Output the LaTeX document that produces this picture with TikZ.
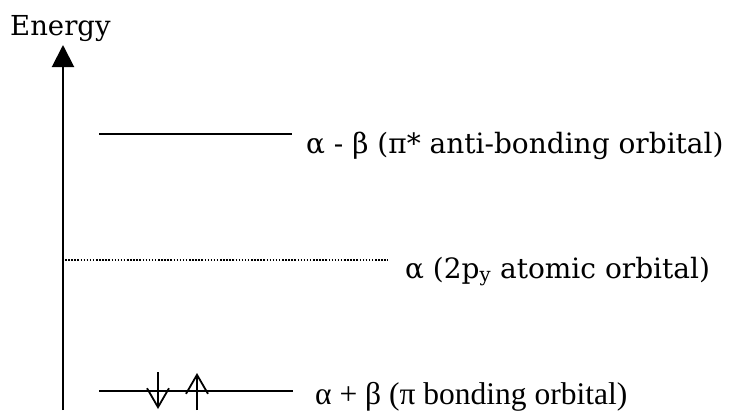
\documentclass[tikz,border=0pt]{standalone}
\usepackage{fontspec}
\setmainfont{DejaVu Serif}
\newfontfamily\timesfont{Liberation Serif}
\usetikzlibrary{arrows.meta}
\begin{document}
\begin{tikzpicture}[x=1pt, y=-1pt,
    orbitalLine/.style={line width=2pt},
    orbitalText/.style={anchor=base west, inner sep=0pt, font=\fontsize{28}{32}\selectfont},
    electron/.style={line width=1.8pt, -{Straight Barb[length=19pt,width=22pt]}}]
    \definecolor{lineColour}{HTML}{000000}

    \useasboundingbox (0,0) rectangle (730,410);

    % Energy axis
    \coordinate (axisBottom) at (63,410);
    \coordinate (axisTop) at (63,45);
    \draw[line width=2pt, -{Triangle[width=22pt,length=22pt]}] (axisBottom) -- (axisTop);
    \node[anchor=base west, inner sep=0pt, font=\fontsize{27.5}{30}\selectfont] (energy) at (10,35) {Energy};

    % Anti-bonding level
    \coordinate (antiL) at (99,134);
    \coordinate (antiR) at (292,134);
    \draw[orbitalLine] (antiL) -- (antiR);
    \node[orbitalText] (antiText) at (306,153) {α - β (π* anti-bonding orbital)};

    % Atomic level
    \coordinate (atomL) at (65,260);
    \coordinate (atomR) at (388,260);
    \draw[line width=1.4pt, dash pattern=on 1.5pt off 1.6pt] (atomL) -- (atomR);
    \node[orbitalText] (atomText) at (405,278) {α (2p\textsubscript{y} atomic orbital)};

    % Bonding level
    \coordinate (bondL) at (99,391);
    \coordinate (bondR) at (293,391);
    \draw[orbitalLine] (bondL) -- (bondR);
    \node[orbitalText, font=\timesfont\fontsize{31.5}{34}\selectfont] (bondText) at (315,404) {α + β (π bonding orbital)};

    % Electrons
    \coordinate (downTop) at (158,372);
    \coordinate (downTip) at (158,409);
    \coordinate (upBottom) at (197,410);
    \coordinate (upTip) at (197,373);
    \draw[electron] (downTop) -- (downTip);
    \draw[electron] (upBottom) -- (upTip);

\end{tikzpicture}
\end{document}
